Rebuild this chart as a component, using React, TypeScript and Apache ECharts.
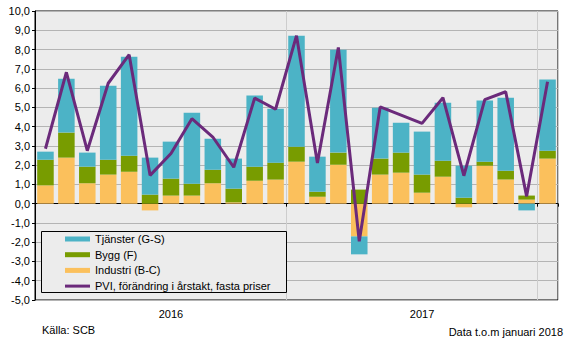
import React, { useEffect, useRef } from "react";
import * as echarts from "echarts";

const categories = [
  "2016-01","2016-02","2016-03","2016-04","2016-05","2016-06","2016-07","2016-08","2016-09","2016-10","2016-11","2016-12",
  "2017-01","2017-02","2017-03","2017-04","2017-05","2017-06","2017-07","2017-08","2017-09","2017-10","2017-11","2017-12",
  "2018-01",
];
const yearLabels: Record<string, string> = { "2016-07": "2016", "2017-07": "2017" };

const industri = [0.95, 2.39, 1.06, 1.51, 1.66, -0.35, 0.42, 0.42, 1.06, 0.07, 1.19, 1.25, 2.18, 0.36, 2.02, -1.70, 1.51, 1.61, 0.57, 1.40, -0.19, 1.97, 1.25, 0.21, 2.34];
const bygg = [1.33, 1.30, 0.86, 0.77, 0.83, 0.47, 0.88, 0.62, 0.70, 0.71, 0.73, 0.88, 0.78, 0.26, 0.63, 0.73, 0.83, 1.04, 0.94, 0.83, 0.31, 0.21, 0.46, 0.21, 0.41];
const tjanster = [0.42, 2.80, 0.73, 3.84, 5.14, 1.92, 1.92, 3.68, 1.61, 1.56, 3.69, 2.80, 5.76, 1.82, 5.34, -0.93, 2.64, 1.55, 2.23, 3.01, 1.66, 3.17, 3.79, -0.35, 3.69];
const pvi = [2.85, 6.82, 2.75, 6.25, 7.73, 1.47, 2.6, 4.41, 3.46, 1.89, 5.48, 4.9, 8.72, 2.11, 8.11, -1.95, 5.02, 4.6, 4.17, 5.5, 1.45, 5.4, 5.81, 0.38, 6.33];

const NAME_T = "Tjänster (G-S)";
const NAME_B = "Bygg (F)";
const NAME_I = "Industri (B-C)";
const NAME_P = "PVI, förändring i årstakt, fasta priser";

const FONT = "Liberation Sans, Arial, sans-serif";
const isYearBoundary = (i: number) => i === 12 || i === 24;

export default function App() {
  const ref = useRef<HTMLDivElement>(null);
  useEffect(() => {
    if (!ref.current) return;
    const chart = echarts.init(ref.current, null, { renderer: "svg" });
    chart.setOption({
      animation: false,
      textStyle: { fontFamily: FONT },
      grid: {
        left: 35, right: 9, top: 11, bottom: 41,
        show: true, backgroundColor: "#ececec", borderColor: "#000", borderWidth: 1,
      },
      legend: {
        orient: "vertical", left: 65, top: 232.5, z: 110,
        data: [
          { name: NAME_T, icon: "rect" },
          { name: NAME_B, icon: "rect" },
          { name: NAME_I, icon: "rect" },
          { name: NAME_P, icon: "path://M0,0 L25,0 L25,3 L0,3 Z", itemStyle: { color: "#6b2a7b" } },
        ],
        itemWidth: 25, itemHeight: 5, itemGap: 2.7, padding: 0,
        textStyle: { fontSize: 11, color: "#000", lineHeight: 13, fontFamily: FONT },
      },
      xAxis: [
        {
          type: "category", data: categories, position: "bottom",
          axisLine: { onZero: true, lineStyle: { color: "#000", width: 1 } },
          axisTick: { show: true, interval: (i: number) => isYearBoundary(i), length: 3, lineStyle: { color: "#000" } },
          axisLabel: { show: false },
          splitLine: { show: false },
        },
        {
          type: "category", data: categories, position: "bottom",
          axisLine: { show: false, onZero: false },
          axisTick: { show: false },
          axisLabel: {
            show: true, interval: 0, margin: 8, fontSize: 11, color: "#000", fontFamily: FONT,
            formatter: (v: string) => yearLabels[v] || "",
          },
          splitLine: { show: true, interval: (i: number) => isYearBoundary(i), lineStyle: { color: "#cdcdcd", width: 1 } },
        },
      ],
      yAxis: {
        type: "value", min: -5, max: 10, interval: 1,
        axisLine: { show: true, onZero: false, lineStyle: { color: "#000" } },
        axisTick: { show: true, length: 3, lineStyle: { color: "#000" } },
        axisLabel: {
          fontSize: 11, color: "#000", margin: 5, fontFamily: FONT,
          formatter: (v: number) => v.toFixed(1).replace(".", ","),
        },
        splitLine: { show: true, lineStyle: { color: "#b4b4b4", width: 1 } },
      },
      graphic: [
        {
          type: "rect", z: 50, shape: { x: 41.5, y: 231.5, width: 245, height: 61 },
          style: { fill: "#ececec", stroke: "#000", lineWidth: 1 },
        },
        {
          type: "text", left: 42, top: 324,
          style: { text: "Källa: SCB", font: `11px ${FONT}`, fill: "#000" },
        },
        {
          type: "text", right: 4, top: 326,
          style: { text: "Data t.o.m januari 2018", font: `11px ${FONT}`, fill: "#000" },
        },
      ],
      series: [
        { name: NAME_I, type: "bar", stack: "s", data: industri, barCategoryGap: "21%", itemStyle: { color: "#fbc05c" } },
        { name: NAME_B, type: "bar", stack: "s", data: bygg, itemStyle: { color: "#789c00" } },
        { name: NAME_T, type: "bar", stack: "s", data: tjanster, itemStyle: { color: "#4cb3c6" } },
        {
          name: NAME_P, type: "line", data: pvi, symbol: "none", showSymbol: false, z: 5,
          lineStyle: { color: "#6b2a7b", width: 3 }, itemStyle: { color: "#6b2a7b" },
        },
      ],
    });
    return () => chart.dispose();
  }, []);
  return <div ref={ref} style={{ position: "absolute", left: 0, top: 0, width: 567, height: 341 }} />;
}
